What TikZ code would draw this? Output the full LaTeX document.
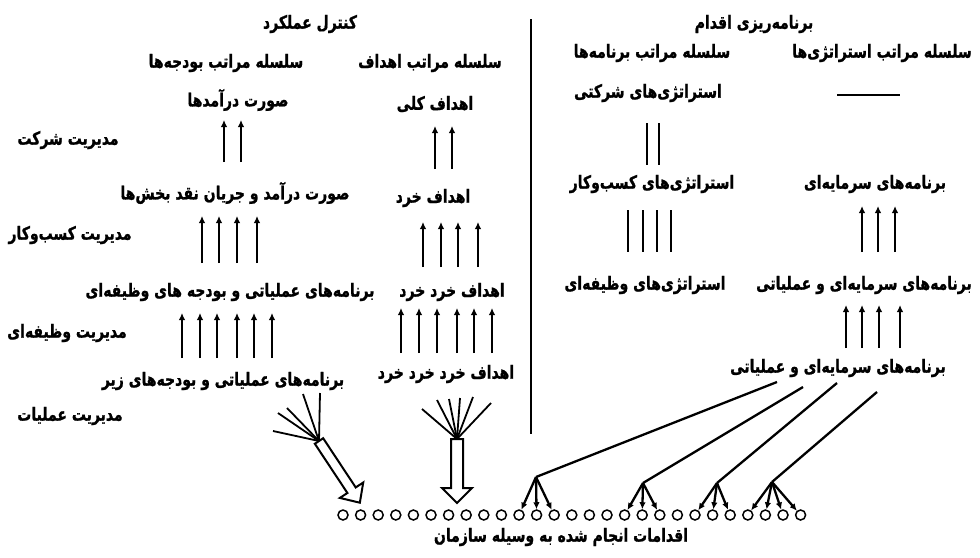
\documentclass[tikz,border=0pt]{standalone}
\usepackage{fontspec}
\usepackage{graphicx}
\usepackage{tikz}
\usetikzlibrary{shapes, arrows.meta, positioning, calc}
\newfontfamily\arabicfont[Script=Arabic, BoldFeatures={FakeBold=1.2}]{DejaVu Sans}
\TeXXeTstate=1
\newcommand{\fatext}[1]{\scalebox{1}[1.3]{\beginR #1\endR}}
\tikzstyle{txt} = [font=\arabicfont\bfseries\fontsize{14}{17}\selectfont, inner sep=1pt]
\tikzstyle{uparrow} = [draw, -{Latex[length=7pt, width=6.5pt]}, line width=2.3pt]
\tikzstyle{bar} = [draw, line width=2.3pt]
\tikzstyle{act} = [draw, circle, line width=1.5pt, minimum size=10pt, inner sep=0pt]
\tikzstyle{hollow} = [draw, line width=2pt, line join=miter]

\begin{document}
\begin{tikzpicture}[x=1pt, y=-1pt]
    \useasboundingbox (0,0) rectangle (980,557);

    % Titles
    \node [txt] (ctrl) at (310,24) {\fatext{کنترل عملکرد}};
    \node [txt] (plan) at (754,24) {\fatext{برنامه‌ریزی اقدام}};
    \coordinate (divtop) at (531,19);
    \coordinate (divbot) at (531,434);
    \path [bar, line width=2.8pt] (divtop) -- (divbot);

    % Performance control
    \node [txt] (budgets) at (226,63) {\fatext{سلسله مراتب بودجه‌ها}};
    \node [txt] (goals) at (430,63) {\fatext{سلسله مراتب اهداف}};
    \node [txt] (income) at (238,100) {\fatext{صورت درآمدها}};
    \node [txt] (maingoals) at (435,104) {\fatext{اهداف کلی}};
    \node [txt] (corpmgmt) at (68,140) {\fatext{مدیریت شرکت}};
    \node [txt] (unitincome) at (235,193) {\fatext{صورت درآمد و جریان نقد بخش‌ها}};
    \node [txt] (subgoals) at (433,198) {\fatext{اهداف خرد}};
    \node [txt] (busmgmt) at (70,235) {\fatext{مدیریت کسب‌وکار}};
    \node [txt] (funcplans) at (230,292) {\fatext{برنامه‌های عملیاتی و بودجه های وظیفه‌ای}};
    \node [txt] (subgoals2) at (452,292) {\fatext{اهداف خرد خرد}};
    \node [txt] (funcmgmt) at (67,333) {\fatext{مدیریت وظیفه‌ای}};
    \node [txt] (opplans) at (223,381) {\fatext{برنامه‌های عملیاتی و بودجه‌های زیر}};
    \node [txt] (subgoals3) at (446,374) {\fatext{اهداف خرد خرد خرد}};
    \node [txt] (opmgmt) at (70,416) {\fatext{مدیریت عملیات}};

    \foreach \x in {224,241} \path [uparrow] (\x,162) -- (\x,120);
    \foreach \x in {435,452} \path [uparrow] (\x,169) -- (\x,126);
    \foreach \x in {202,219,237,257} \path [uparrow] (\x,263) -- (\x,216);
    \foreach \x in {423,441,458,478} \path [uparrow] (\x,267) -- (\x,222);
    \foreach \x in {182,200,217,237,254,272} \path [uparrow] (\x,358) -- (\x,313);
    \foreach \x in {401,419,437,457,474,492} \path [uparrow] (\x,353) -- (\x,308);

    % Action planning
    \node [txt] (programs) at (652,53) {\fatext{سلسله مراتب برنامه‌ها}};
    \node [txt] (strategies) at (882,53) {\fatext{سلسله مراتب استراتژی‌ها}};
    \node [txt] (corpstrat) at (648,93) {\fatext{استراتژی‌های شرکتی}};
    \path [bar] (837,95) -- (900,95);
    \node [txt] (busstrat) at (652,184) {\fatext{استراتژی‌های کسب‌وکار}};
    \node [txt] (capprog) at (875,184) {\fatext{برنامه‌های سرمایه‌ای}};
    \node [txt] (funcstrat) at (645,285) {\fatext{استراتژی‌های وظیفه‌ای}};
    \node [txt] (capop) at (864,285) {\fatext{برنامه‌های سرمایه‌ای و عملیاتی}};
    \node [txt] (capop2) at (838,368) {\fatext{برنامه‌های سرمایه‌ای و عملیاتی}};

    \foreach \x in {647,659} \path [bar] (\x,123) -- (\x,165);
    \foreach \x in {628,643,657,671} \path [bar] (\x,210) -- (\x,252);
    \foreach \x in {862,878,895} \path [uparrow] (\x,252) -- (\x,206);
    \foreach \x in {846,862,879,900} \path [uparrow] (\x,348) -- (\x,305);

    % Actions
    \foreach \i in {0,...,26} \node [act] (c\i) at ({343+17.6*\i},515) {};
    \node [txt] (actions) at (561,537) {\fatext{اقدامات انجام شده به وسیله سازمان}};

    \coordinate (s1) at (777,382); \coordinate (g1) at (536,477);
    \coordinate (s2) at (803,387); \coordinate (g2) at (643,483);
    \coordinate (s3) at (837,383); \coordinate (g3) at (717,483);
    \coordinate (s4) at (877,392); \coordinate (g4) at (772,482);
    \path [bar] (s1) -- (g1);
    \path [bar] (s2) -- (g2);
    \path [bar] (s3) -- (g3);
    \path [bar] (s4) -- (g4);
    \foreach \i in {10,11,12} \path [uparrow] (g1) -- (c\i);
    \foreach \i in {16,17,18} \path [uparrow] (g2) -- (c\i);
    \foreach \i in {20,21,22} \path [uparrow] (g3) -- (c\i);
    \foreach \i in {23,24,25,26} \path [uparrow] (g4) -- (c\i);

    % Fans
    \coordinate (fanl) at (319,441);
    \coordinate (fanr) at (457,439);
    \foreach \p in {(273,431),(278,413),(287,408),(303,394),(320,393)} \path [bar, line width=1.8pt] (fanl) -- \p;
    \foreach \p in {(422,409),(437,400),(449,399),(460,398),(473,397),(491,403)} \path [bar, line width=1.8pt] (fanr) -- \p;
    \begin{scope}[shift={(fanl)}, rotate=-56.5]
        \path [hollow] (0,-5) -- (59,-5) -- (59,-14) -- (74,0) -- (59,14) -- (59,5) -- (0,5) -- cycle;
    \end{scope}
    \begin{scope}[shift={(fanr)}, rotate=-90]
        \path [hollow] (0,-6) -- (49,-6) -- (49,-15) -- (64,0) -- (49,15) -- (49,6) -- (0,6) -- cycle;
    \end{scope}
\end{tikzpicture}
\end{document}
